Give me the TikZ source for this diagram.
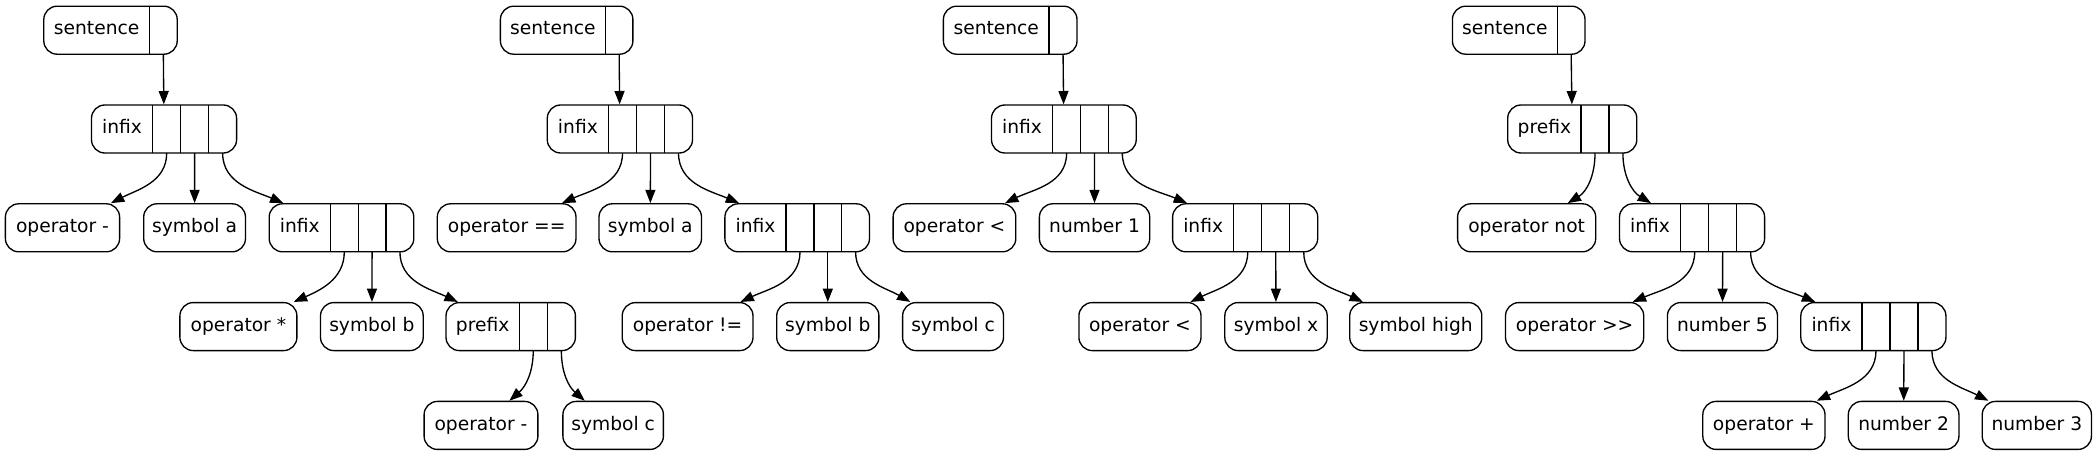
\documentclass[tikz,border=0pt]{standalone}
\usepackage{fontspec}
\setmainfont{DejaVu Sans}
\usetikzlibrary{arrows.meta}
\tikzset{
  recbox/.style={draw, line width=1pt, rounded corners=10pt, minimum height=36pt, inner sep=0pt},
  lbl/.style={inner sep=0pt, text height=10.2pt, text depth=3pt, font=\fontsize{14pt}{16pt}\selectfont},
  leaf/.style={recbox, lbl},
  divider/.style={line width=1pt},
  edge/.style={line width=1pt, -{Triangle[length=10pt,width=7.5pt]}},
}
% record: name, left, right, y, label, label width, number of ports
\newcommand\mkrec[7]{%
  \pgfmathsetmacro\recw{(#3-#2)*0.75}%
  \node[recbox, minimum width=\recw pt] (#1) at ({(#2+#3)/2},#4) {};%
  \node[lbl] (#1-l) at ({#2+#6/2},#4) {#5};%
  \pgfmathsetmacro\portw{(#3-#2-#6)/#7}%
  \foreach \k in {1,...,#7}{%
    \pgfmathsetmacro\xa{#2+#6+(\k-1)*\portw}%
    \pgfmathsetmacro\xc{\xa+\portw/2}%
    \draw[divider] (\xa,#4-24) -- (\xa,#4+24);%
    \coordinate (#1-\k) at (\xc,#4+24);%
  }%
}
% leaf: name, left, right, y, text
\newcommand\mkleaf[5]{%
  \pgfmathsetmacro\leafw{(#3-#2)*0.75}%
  \node[leaf, minimum width=\leafw pt] (#1) at ({(#2+#3)/2},#4) {#5};%
}
\begin{document}
\begin{tikzpicture}[x=0.75pt,y=-0.75pt]
\useasboundingbox (0,0) rectangle (2097,456);
% ---- tree 1
\mkrec{s1}{43.8}{177.2}{30.2}{sentence}{105.7}{1}
\mkrec{i1}{91.5}{236.6}{129}{infix}{61.2}{3}
\mkleaf{op1}{5.4}{119.6}{227.8}{operator -}
\mkleaf{sa1}{143.7}{245.5}{227.8}{symbol a}
\mkrec{i2}{269.2}{413.8}{227.8}{infix}{61.2}{3}
\mkleaf{opm}{179.9}{296.9}{326.6}{operator *}
\mkleaf{sb1}{320.5}{423.2}{326.6}{symbol b}
\mkrec{p1}{446}{575.4}{326.6}{prefix}{73.2}{2}
\mkleaf{op2}{424.1}{537.9}{425.4}{operator -}
\mkleaf{sc1}{562.9}{663.4}{425.4}{symbol c}
% ---- tree 2
\mkrec{s2}{500.4}{632.9}{30.2}{sentence}{105}{1}
\mkrec{i3}{547.3}{692.5}{129}{infix}{61.2}{3}
\mkleaf{opeq}{437.3}{576}{227.8}{operator ==}
\mkleaf{sa2}{599}{701.5}{227.8}{symbol a}
\mkrec{i4}{724.9}{869.5}{227.8}{infix}{61.2}{3}
\mkleaf{opne}{622.2}{753}{326.6}{operator !=}
\mkleaf{sb2}{776.7}{878.9}{326.6}{symbol b}
\mkleaf{sc2}{902.6}{1003.5}{326.6}{symbol c}
% ---- tree 3
\mkrec{s3}{943.4}{1077}{30.2}{sentence}{105.7}{1}
\mkrec{i5}{991.5}{1136.2}{129}{infix}{61.2}{3}
\mkleaf{oplta}{893.1}{1015.8}{227.8}{operator <}
\mkleaf{n1}{1039.4}{1149.7}{227.8}{number 1}
\mkrec{i6}{1172.6}{1317.7}{227.8}{infix}{61.2}{3}
\mkleaf{opltb}{1078.9}{1201}{326.6}{operator <}
\mkleaf{sx}{1224.8}{1327.2}{326.6}{symbol x}
\mkleaf{sh}{1349.7}{1481.8}{326.6}{symbol high}
% ---- tree 4
\mkrec{s4}{1452.4}{1585}{30.2}{sentence}{104.9}{1}
\mkrec{p2}{1507.7}{1636.8}{129}{prefix}{73.4}{2}
\mkleaf{opnot}{1457.6}{1595.7}{227.8}{operator not}
\mkrec{i7}{1619.5}{1764.6}{227.8}{infix}{61.2}{3}
\mkleaf{opsh}{1505.5}{1643.7}{326.6}{operator >{}>}
\mkleaf{n5}{1667.4}{1777.5}{326.6}{number 5}
\mkrec{i8}{1800.8}{1945.9}{326.6}{infix}{61.2}{3}
\mkleaf{opp}{1702.8}{1825}{425.4}{operator +}
\mkleaf{n2}{1848.3}{1958.9}{425.4}{number 2}
\mkleaf{n3}{1982.2}{2091.4}{425.4}{number 3}
% ---- edges tree 1
\draw[edge] (s1-1) -- (i1);
\draw[edge] (i1-1) to[out=-90,in=27] (op1);
\draw[edge] (i1-2) -- (sa1);
\draw[edge] (i1-3) to[out=-90,in=157] (i2);
\draw[edge] (i2-1) to[out=-90,in=24] (opm);
\draw[edge] (i2-2) -- (sb1);
\draw[edge] (i2-3) to[out=-90,in=155] (p1);
\draw[edge] (p1-1) to[out=-90,in=41] (op2);
\draw[edge] (p1-2) to[out=-90,in=139] (sc1);
% ---- edges tree 2
\draw[edge] (s2-1) -- (i3);
\draw[edge] (i3-1) to[out=-90,in=24] (opeq);
\draw[edge] (i3-2) -- (sa2);
\draw[edge] (i3-3) to[out=-90,in=157] (i4);
\draw[edge] (i4-1) to[out=-90,in=25] (opne);
\draw[edge] (i4-2) -- (sb2);
\draw[edge] (i4-3) to[out=-90,in=150] (sc2);
% ---- edges tree 3
\draw[edge] (s3-1) -- (i5);
\draw[edge] (i5-1) to[out=-90,in=26] (oplta);
\draw[edge] (i5-2) -- (n1);
\draw[edge] (i5-3) to[out=-90,in=157] (i6);
\draw[edge] (i6-1) to[out=-90,in=26] (opltb);
\draw[edge] (i6-2) -- (sx);
\draw[edge] (i6-3) to[out=-90,in=155] (sh);
% ---- edges tree 4
\draw[edge] (s4-1) -- (p2);
\draw[edge] (p2-1) to[out=-90,in=31] (opnot);
\draw[edge] (p2-2) to[out=-90,in=149] (i7);
\draw[edge] (i7-1) to[out=-90,in=23] (opsh);
\draw[edge] (i7-2) -- (n5);
\draw[edge] (i7-3) to[out=-90,in=157] (i8);
\draw[edge] (i8-1) to[out=-90,in=25] (opp);
\draw[edge] (i8-2) -- (n2);
\draw[edge] (i8-3) to[out=-90,in=153] (n3);
\end{tikzpicture}
\end{document}
